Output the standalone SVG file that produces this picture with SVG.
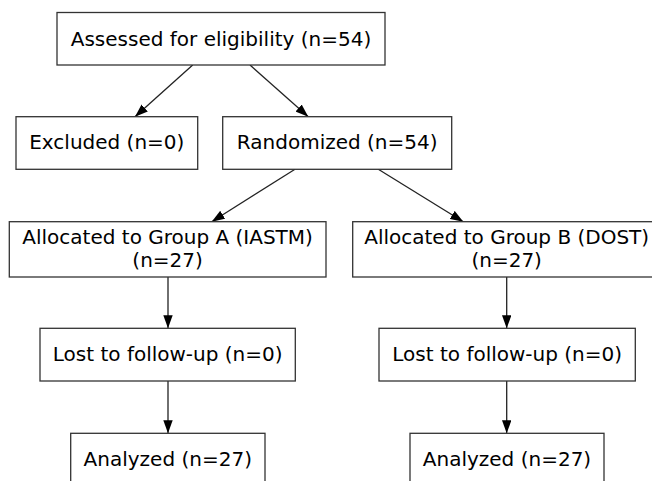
<svg xmlns="http://www.w3.org/2000/svg" width="652" height="481" viewBox="0 0 652 481">
  <defs>
    <marker id="arrow" markerUnits="userSpaceOnUse" markerWidth="14" markerHeight="10" refX="13" refY="4.7" orient="auto">
      <path d="M0,0 L13,4.7 L0,9.4 z" fill="#000"/>
    </marker>
    <style>
      .box { fill: #fff; stroke: #333; stroke-width: 1.3; }
      .lbl { font-family: "DejaVu Sans", "Liberation Sans", sans-serif; font-size: 20px; fill: #000; text-anchor: middle; }
      .edge { fill: none; stroke: #222; stroke-width: 1.3; marker-end: url(#arrow); }
    </style>
  </defs>
  <rect width="652" height="481" fill="#fff"/>

  <g id="connectors">
    <path class="edge" d="M192.7,65 L135,116.7"/>
    <path class="edge" d="M250,65 L308.3,116.7"/>
    <path class="edge" d="M295,169.3 L211.7,221.7"/>
    <path class="edge" d="M378.3,169.3 L463.3,221.7"/>
    <path class="edge" d="M168,277 L168,328.3"/>
    <path class="edge" d="M506.7,277 L506.7,328.3"/>
    <path class="edge" d="M168,381 L168,433.3"/>
    <path class="edge" d="M506.7,381 L506.7,433.3"/>
  </g>

  <g id="assessed">
    <rect class="box" x="57" y="12.5" width="328" height="52.5"/>
    <text class="lbl" x="221" y="45.5">Assessed for eligibility (n=54)</text>
  </g>
  <g id="excluded">
    <rect class="box" x="16" y="116.7" width="181.7" height="52.6"/>
    <text class="lbl" x="106.8" y="149.2">Excluded (n=0)</text>
  </g>
  <g id="randomized">
    <rect class="box" x="222.7" y="116.7" width="229" height="52.6"/>
    <text class="lbl" x="337.2" y="149.2">Randomized (n=54)</text>
  </g>
  <g id="groupA">
    <rect class="box" x="9.3" y="221.7" width="316.7" height="55.3"/>
    <text class="lbl" x="167.6" y="243.6">Allocated to Group A (IASTM)</text>
    <text class="lbl" x="167.6" y="266.6">(n=27)</text>
  </g>
  <g id="groupB">
    <rect class="box" x="352.7" y="221.7" width="310" height="55.3"/>
    <text class="lbl" x="506.7" y="243.6">Allocated to Group B (DOST)</text>
    <text class="lbl" x="506.7" y="266.6">(n=27)</text>
  </g>
  <g id="lostA">
    <rect class="box" x="40" y="328.3" width="255.3" height="52.7"/>
    <text class="lbl" x="167.7" y="360.8">Lost to follow-up (n=0)</text>
  </g>
  <g id="lostB">
    <rect class="box" x="379" y="328.3" width="256.3" height="52.7"/>
    <text class="lbl" x="507.2" y="360.8">Lost to follow-up (n=0)</text>
  </g>
  <g id="analyzedA">
    <rect class="box" x="70.7" y="433.3" width="194.3" height="60"/>
    <text class="lbl" x="167.8" y="465.6">Analyzed (n=27)</text>
  </g>
  <g id="analyzedB">
    <rect class="box" x="410" y="433.3" width="194" height="60"/>
    <text class="lbl" x="507" y="465.6">Analyzed (n=27)</text>
  </g>
</svg>
